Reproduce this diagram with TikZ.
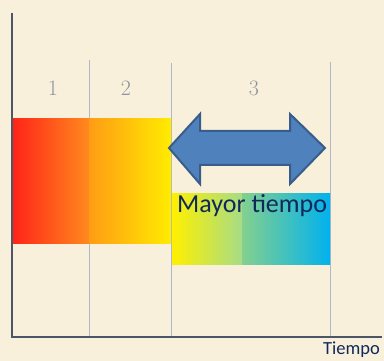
\documentclass[tikz,border=0pt]{standalone}
\usepackage{fontspec}
\newfontfamily\calibri{Carlito}
\usetikzlibrary{positioning}

\definecolor{parchment}{HTML}{F9F0DC}
\definecolor{gridblue}{HTML}{AEB8CA}
\definecolor{axisgray}{HTML}{4C5666}
\definecolor{labelgray}{HTML}{8C94A0}
\definecolor{navytext}{HTML}{10285A}
\definecolor{arrowfill}{HTML}{4F81BD}
\definecolor{arrowline}{HTML}{385D8A}
\definecolor{hotred}{HTML}{FF2418}
\definecolor{hotorange}{HTML}{FF8A1E}
\definecolor{warmorange}{HTML}{FF9C14}
\definecolor{hotyellow}{HTML}{FFEC00}
\definecolor{coolyellow}{HTML}{FFF000}
\definecolor{palegreen}{HTML}{A6DC86}
\definecolor{midgreen}{HTML}{84D08E}
\definecolor{tealgreen}{HTML}{12C8B4}
\definecolor{skyblue}{HTML}{00B2EE}

\tikzset{
  grid/.style={gridblue, line width=0.9pt},
  axis/.style={axisgray, line width=2pt},
  phase/.style={labelgray, font=\fontsize{22}{22}\selectfont},
  bigarrow/.style={fill=arrowfill, draw=arrowline, line width=2pt, line join=miter},
  caption/.style={navytext, font=\calibri\fontsize{26}{26}\selectfont, inner sep=0pt}
}

\begin{document}
\begin{tikzpicture}[x=1pt,y=-1pt]
  \useasboundingbox[fill=parchment] (0,0) rectangle (384,361);
  % grid lines
  \foreach \x/\t in {89/60,171/63,330/62} \draw[grid] (\x,\t)--(\x,337);
  % hot blocks
  \shade[left color=hotred, right color=hotorange] (13,119) rectangle (89,244);
  \shade[left color=warmorange, right color=hotyellow] (89,119) rectangle (171,244);
  % cool block
  \shade[left color=coolyellow, right color=palegreen] (172,194) rectangle (242,265);
  \shade[left color=midgreen, middle color=tealgreen, right color=skyblue] (242,194) rectangle (330,265);
  % axes
  \coordinate (ytop) at (12,13);
  \coordinate (origin) at (12,337);
  \coordinate (xend) at (382,337);
  \draw[axis] (ytop) -- (origin) -- (xend);
  % phases
  \foreach \x/\n in {53/1,126/2,254/3} \node[phase] (p\n) at (\x,88) {\n};
  % double arrow
  \draw[bigarrow] (169,148) -- (200,114) -- (200,131) -- (290,131) -- (290,114)
    -- (325,148) -- (290,184) -- (290,165) -- (200,165) -- (200,184) -- cycle;
  \node[caption, anchor=base west] (mayor) at (177,213) {Mayor tiempo};
  \node[caption, anchor=base west, font=\calibri\fontsize{18.5}{18.5}\selectfont] (tiempo) at (323,355) {Tiempo};
\end{tikzpicture}
\end{document}
